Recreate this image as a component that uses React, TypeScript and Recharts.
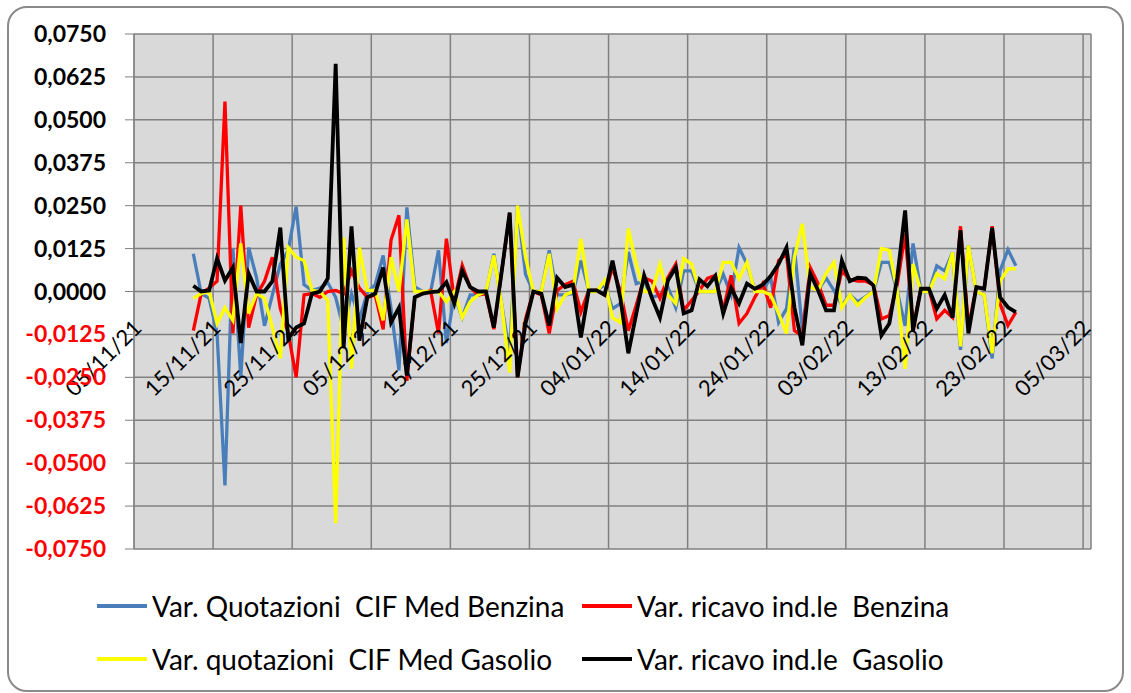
import React from "react";
import {
  LineChart,
  Line,
  XAxis,
  YAxis,
  CartesianGrid,
  ReferenceDot,
} from "recharts";

// daily variations, 12/11/21 -> 24/02/22
const START_DATE = "12/11/21";

const BLUE = [
  0.011, -0.0006, -0.002, -0.012, -0.0565, 0.0125, -0.025, 0.0128, 0.004, -0.01,
  -0.001, 0.008, 0.012, 0.0247, 0.002, 0.0003, 0.001, 0.0026, -0.0017, -0.011,
  -0.0006, -0.008, -0.0003, 0.002, 0.0105, -0.005, -0.023, 0.0245, 0.0013, 0.0,
  -0.0002, 0.012, -0.015, -0.001, -0.0076, -0.001, -0.001, -0.0006, 0.011, -0.004,
  -0.018, 0.025, 0.005, 0.0, 0.0, 0.012, -0.001, -0.001, -0.0006, 0.009,
  0.0003, 0.0003, 0.002, -0.005, -0.0035, 0.0115, 0.0023, 0.003, -0.0017, -0.001,
  0.0013, -0.0047, 0.006, 0.006, 0.0, 0.0, 0.0, 0.005, -0.001, 0.0128,
  0.008, 0.0003, 0.0003, 0.004, -0.009, -0.005, 0.0128, -0.011, 0.006, 0.0003,
  0.004, 0.0003, -0.004, -0.001, -0.003, -0.0015, 0.0, 0.0085, 0.0085, 0.0,
  -0.01, 0.014, 0.0, 0.0, 0.0075, 0.006, 0.0114, -0.017, 0.0134, 0.0,
  -0.001, -0.0195, 0.006, 0.0122, 0.0075,
];

const RED = [
  -0.0114, -0.0006, 0.001, 0.003, 0.0553, -0.0122, 0.025, -0.0105, -0.001, 0.003,
  0.01, -0.005, -0.012, -0.025, -0.001, -0.0006, -0.0017, 0.0, 0.0003, -0.0006,
  0.006, 0.001, -0.0017, -0.001, -0.011, 0.015, 0.0222, -0.026, -0.0017, -0.0006,
  0.0003, -0.0122, 0.0154, -0.0026, 0.0076, 0.0013, -0.001, -0.0006, -0.011, 0.006,
  0.0227, -0.025, -0.008, 0.0, -0.001, -0.0122, 0.0003, 0.002, 0.003, -0.006,
  0.0003, 0.0003, -0.001, 0.007, 0.0, -0.0114, -0.004, 0.004, 0.003, -0.002,
  0.004, 0.008, -0.0055, -0.0026, 0.0003, 0.0038, 0.0047, -0.0055, 0.0047, -0.0093,
  -0.0064, -0.0017, 0.0023, -0.0047, 0.009, 0.011, -0.0114, -0.013, 0.007, 0.0023,
  -0.004, -0.004, 0.006, 0.0035, 0.003, 0.003, 0.002, -0.008, -0.007, 0.002,
  0.0168, -0.0104, 0.0008, 0.0008, -0.008, -0.0055, -0.0076, 0.019, -0.0104, 0.0013,
  0.0008, 0.019, -0.0035, -0.0099, -0.006,
];

const YELLOW = [
  -0.002, -0.0006, 0.0, -0.0093, -0.0047, -0.0084, 0.014, -0.0064, -0.0006, -0.002,
  -0.0105, -0.0195, 0.0128, 0.01, 0.009, 0.0003, 0.0, -0.0026, -0.0675, 0.0157,
  -0.0225, 0.0128, 0.0003, 0.0003, -0.0084, 0.01, 0.0, 0.021, 0.0, 0.0,
  0.0, 0.0, -0.003, 0.0, -0.0076, -0.003, -0.001, 0.0, 0.0105, -0.004,
  -0.0236, 0.025, 0.01, 0.0, 0.0, 0.011, -0.005, -0.001, 0.0, 0.0154,
  0.0, 0.0, 0.0032, -0.0076, -0.009, 0.0183, 0.008, 0.0, 0.0, 0.008,
  -0.001, -0.0035, 0.0096, 0.008, 0.0, 0.0, 0.0, 0.0085, 0.0085, 0.0037,
  0.0085, 0.0, 0.0, -0.001, -0.0064, -0.0122, 0.01, 0.0197, 0.0013, 0.0003,
  0.0052, 0.0085, -0.0047, -0.001, -0.004, -0.0017, 0.0, 0.0125, 0.012, 0.0,
  -0.0225, 0.008, 0.0, 0.0, 0.0052, 0.0037, 0.0114, -0.016, 0.0134, 0.0,
  -0.001, -0.018, 0.003, 0.0066, 0.0066,
];

const BLACK = [
  0.0017, 0.0, 0.0003, 0.0096, 0.0032, 0.007, -0.015, 0.0052, 0.0, 0.0,
  0.003, 0.0186, -0.0137, -0.0105, -0.0093, -0.0006, 0.0, 0.0038, 0.0663, -0.0165,
  0.019, -0.0143, -0.0017, -0.0006, 0.007, -0.009, -0.0047, -0.0245, -0.0017, -0.0006,
  -0.0002, 0.0, 0.0027, -0.0035, 0.0061, 0.0013, 0.0, 0.0, -0.0105, 0.006,
  0.023, -0.025, -0.0093, 0.0, -0.0006, -0.0099, 0.004, 0.0013, 0.002, -0.0134,
  0.0003, 0.0003, -0.001, 0.009, -0.002, -0.018, -0.0065, 0.0047, -0.002, -0.0076,
  0.0032, 0.007, -0.0064, -0.0055, 0.0035, 0.0015, 0.0045, -0.0064, 0.001, -0.0035,
  0.0023, 0.0008, 0.002, 0.0045, 0.008, 0.0128, -0.0046, -0.0157, 0.0052, 0.0003,
  -0.0055, -0.0055, 0.009, 0.003, 0.004, 0.0038, 0.0017, -0.0128, -0.0093, 0.004,
  0.0236, -0.0114, 0.0008, 0.0008, -0.005, -0.001, -0.0076, 0.0178, -0.0122, 0.0013,
  0.0008, 0.0186, -0.0017, -0.0046, -0.006,
];

const X_TICK_LABELS = [
  "05/11/21", "15/11/21", "25/11/21", "05/12/21", "15/12/21", "25/12/21", "04/01/22",
  "14/01/22", "24/01/22", "03/02/22", "13/02/22", "23/02/22", "05/03/22",
];

const Y_TICKS = [
  0.075, 0.0625, 0.05, 0.0375, 0.025, 0.0125, 0, -0.0125, -0.025, -0.0375, -0.05, -0.0625, -0.075,
];

const SERIES = [
  { key: "blue", name: "Var. Quotazioni  CIF Med Benzina", color: "#4A7EBB" },
  { key: "red", name: "Var. ricavo ind.le  Benzina", color: "#FF0000" },
  { key: "yellow", name: "Var. quotazioni  CIF Med Gasolio", color: "#FFFF00" },
  { key: "black", name: "Var. ricavo ind.le  Gasolio", color: "#000000" },
];

const DAY = 24 * 3600 * 1000;
const parseDate = (s: string) => {
  const [d, m, y] = s.split("/").map(Number);
  return Date.UTC(2000 + y, m - 1, d);
};

const tickTimes = X_TICK_LABELS.map(parseDate);
const xMin = tickTimes[0];
const xMax = tickTimes[tickTimes.length - 1] + DAY;

// Excel puts each daily point in the middle of its day
const rows = BLUE.map((v, i) => ({
  t: parseDate(START_DATE) + i * DAY + DAY / 2,
  blue: v,
  red: RED[i],
  yellow: YELLOW[i],
  black: BLACK[i],
}));

const fmt = (v: number) => v.toFixed(4).replace(".", ",");

function YTick(props: any) {
  const { x, y, payload } = props;
  const v = payload.value as number;
  return (
    <text
      x={x}
      y={y}
      dy={8}
      textAnchor="end"
      fill={v < 0 ? "#FF0000" : "#000000"}
      fontFamily="Lato"
      fontWeight={700}
      fontSize={23}
    >
      {fmt(v)}
    </text>
  );
}

// date labels sit on the zero line, rotated like Excel does it
function DateLabel(props: any) {
  const { viewBox, text } = props;
  if (!viewBox) return null;
  const x = viewBox.x + 9;
  const y = viewBox.y + 38;
  return (
    <text
      x={x}
      y={y}
      textAnchor="end"
      transform={`rotate(-45 ${x} ${y})`}
      fontFamily="Lato"
      fontSize={22}
      fill="#000"
    >
      {text}
    </text>
  );
}

function LegendBox() {
  return (
    <div
      style={{
        position: "absolute",
        left: 97,
        top: 591,
        display: "grid",
        gridTemplateColumns: "485px 500px",
        rowGap: 23,
        fontFamily: "Lato",
        fontSize: 28,
        color: "#000",
        whiteSpace: "pre",
      }}
    >
      {SERIES.map((s) => (
        <div key={s.key} style={{ display: "flex", alignItems: "center", height: 30 }}>
          <span
            style={{ display: "inline-block", width: 50, height: 4, background: s.color, marginRight: 5 }}
          />
          <span>{s.name}</span>
        </div>
      ))}
    </div>
  );
}

export default function App() {
  return (
    <div style={{ position: "absolute", left: 0, top: 0, width: 1131, height: 693, background: "#fff", overflow: "hidden" }}>
      <div
        style={{
          position: "absolute",
          left: 7,
          top: 6,
          width: 1113,
          height: 682,
          border: "2px solid #8a8a8a",
          borderRadius: 20,
        }}
      />
      <div style={{ position: "absolute", left: 0, top: 0 }}>
        <LineChart
          width={1131}
          height={693}
          data={rows}
          margin={{ top: 34, right: 40, bottom: 144, left: 0 }}
        >
          <CartesianGrid stroke="#808080" strokeWidth={1.5} fill="#D9D9D9" />
          <XAxis
            type="number"
            dataKey="t"
            domain={[xMin, xMax]}
            ticks={tickTimes}
            interval={0}
            hide
          />
          <YAxis
            width={134}
            domain={[-0.075, 0.075]}
            ticks={Y_TICKS}
            interval={0}
            tickSize={9}
            tickMargin={19}
            stroke="#808080"
            tick={<YTick />}
          />
          {SERIES.map((s) => (
            <Line
              key={s.key}
              type="linear"
              dataKey={s.key}
              name={s.name}
              stroke={s.color}
              strokeWidth={s.key === "black" ? 3.8 : 3.3}
              dot={false}
              isAnimationActive={false}
            />
          ))}
          {tickTimes.map((t, i) => (
            <ReferenceDot
              key={t}
              x={t}
              y={0}
              r={0}
              fill="none"
              stroke="none"
              ifOverflow="visible"
              label={<DateLabel text={X_TICK_LABELS[i]} />}
            />
          ))}
        </LineChart>
      </div>
      <LegendBox />
    </div>
  );
}
